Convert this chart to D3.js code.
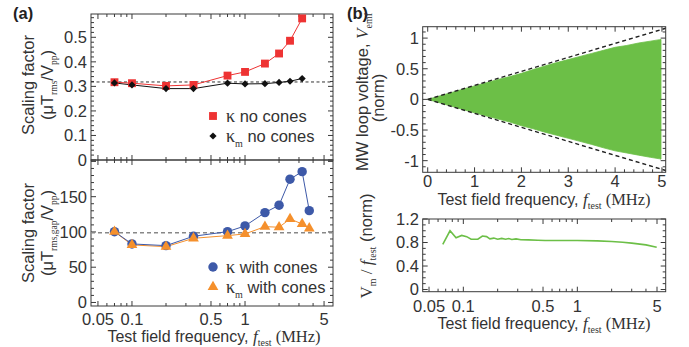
<!DOCTYPE html>
<html><head><meta charset="utf-8">
<script src="https://cdn.jsdelivr.net/npm/d3@7"></script>
<style>
body{margin:0;background:#fff}
text{font-family:"Liberation Sans",Arial,sans-serif;fill:#333}
.serif{font-family:"Liberation Serif","Times New Roman",serif}
</style></head><body>
<svg id="chart" width="689" height="347"></svg>
<script>
// ---- data ----
const freqNoCones = [0.07, 0.1, 0.2, 0.35, 0.7, 1, 1.5, 2, 2.5, 3.2];
const kappaNoCones = [0.317, 0.313, 0.302, 0.306, 0.344, 0.359, 0.393, 0.434, 0.486, 0.577];
const kappaMNoCones = [0.314, 0.306, 0.291, 0.291, 0.313, 0.310, 0.311, 0.316, 0.321, 0.332];
const refNoCones = 0.318;

const freqCones = [0.07, 0.1, 0.2, 0.35, 0.7, 1, 1.5, 2, 2.5, 3.2, 3.7];
const kappaCones = [100.4, 83, 80.6, 93.9, 100.4, 108.5, 127.4, 137.9, 174.8, 185.5, 130.2];
const kappaMCones = [100.4, 81.6, 79.1, 91, 94.8, 97.2, 107.5, 106.7, 118.4, 111.3, 105.2];
const refCones = 99;

// envelope of the MW loop signal
const envFreq = [0, 0.25, 0.5, 0.75, 1, 1.25, 1.5, 1.75, 2, 2.25, 2.5, 2.75, 3, 3.25, 3.5, 3.75, 4, 4.25, 4.5, 4.75, 4.95, 4.98];
const envUpper = [0, 0.056, 0.11, 0.166, 0.22, 0.272, 0.325, 0.372, 0.425, 0.487, 0.545, 0.6, 0.65, 0.7, 0.75, 0.8, 0.85, 0.88, 0.92, 0.95, 0.975, 0.98];
const envLower = [0, -0.055, -0.11, -0.165, -0.22, -0.27, -0.32, -0.37, -0.43, -0.48, -0.535, -0.585, -0.635, -0.685, -0.735, -0.79, -0.84, -0.875, -0.91, -0.945, -0.97, -0.975];
const boundFreq = [0, 5.08];
const boundAmp = [0, 1.16];

const ratioFreq = [0.066, 0.0764, 0.0863, 0.0968, 0.107, 0.117, 0.134, 0.147, 0.16, 0.171, 0.185, 0.2, 0.217, 0.235, 0.25, 0.266, 0.29, 0.32, 0.372, 0.45, 0.521, 0.7, 1.0, 1.5, 2.0, 2.5, 3.0, 4.0, 4.97];
const ratioVal = [0.77, 1.0, 0.88, 0.92, 0.9, 0.855, 0.855, 0.91, 0.9, 0.862, 0.875, 0.855, 0.87, 0.855, 0.868, 0.852, 0.862, 0.848, 0.845, 0.838, 0.835, 0.835, 0.835, 0.828, 0.818, 0.805, 0.79, 0.76, 0.72];

const logTickLabels = [0.05, 0.1, 0.5, 1, 5];
const logMinor = [0.06, 0.07, 0.08, 0.09, 0.2, 0.3, 0.4, 0.6, 0.7, 0.8, 0.9, 2, 3, 4];

const svg = d3.select("#chart");
const frameColor = "#3a3a3a";
const tickFont = "16.5px";

// frame with inward ticks on all four sides
function frame(g, x, y, xMaj, xMin, yMaj, yMin) {
    const [x0, x1] = x.range(), [y0, y1] = y.range(); // y0 bottom
    g.append("rect").attr("x", x0).attr("y", y1).attr("width", x1 - x0).attr("height", y0 - y1)
        .attr("fill", "none").attr("stroke", frameColor).attr("stroke-width", 1);
    const tk = g.append("g").attr("stroke", frameColor).attr("stroke-width", 1);
    const drawX = (vals, len) => vals.forEach(v => {
        const px = x(v);
        tk.append("line").attr("x1", px).attr("x2", px).attr("y1", y0).attr("y2", y0 - len);
        tk.append("line").attr("x1", px).attr("x2", px).attr("y1", y1).attr("y2", y1 + len);
    });
    const drawY = (vals, len) => vals.forEach(v => {
        const py = y(v);
        tk.append("line").attr("x1", x0).attr("x2", x0 + len).attr("y1", py).attr("y2", py);
        tk.append("line").attr("x1", x1).attr("x2", x1 - len).attr("y1", py).attr("y2", py);
    });
    drawX(xMaj, 5); drawX(xMin, 3);
    drawY(yMaj, 5); drawY(yMin, 3);
}

function yLabels(g, y, vals, xPos, fmt) {
    g.selectAll(null).data(vals).enter().append("text")
        .attr("x", xPos).attr("y", d => y(d)).attr("dy", "0.36em")
        .attr("text-anchor", "end").style("font-size", tickFont)
        .text(fmt || (d => d));
}
function xLabels(g, x, vals, yPos, fmt) {
    g.selectAll(null).data(vals).enter().append("text")
        .attr("x", d => x(d)).attr("y", yPos)
        .attr("text-anchor", "middle").style("font-size", tickFont)
        .text(fmt || (d => d));
}
function freqTitle(g, cx, y) {
    const t = g.append("text").attr("x", cx).attr("y", y).attr("text-anchor", "middle").style("font-size", "16px");
    t.append("tspan").text("Test field frequency, ");
    t.append("tspan").attr("class", "serif").style("font-style", "italic").style("font-size", "17px").text("f");
    t.append("tspan").attr("class", "serif").style("font-size", "10px").attr("dy", 4).text("test");
    t.append("tspan").attr("class", "serif").style("font-size", "16.5px").attr("dy", -4).text(" (MHz)");
}
const range = (a, b, s) => d3.range(Math.round(a / s), Math.round(b / s) + 1).map(i => +(i * s).toFixed(6));

// ================= panel (a) =================
const xA = d3.scaleLog().domain([0.0434, 6.0]).range([91, 333]);
const yA1 = d3.scaleLinear().domain([0, 0.595]).range([160, 14]);
const yA2 = d3.scaleLinear().domain([-5, 202]).range([306, 160]);

const gA = svg.append("g");
frame(gA, xA, yA1, logTickLabels, logMinor, range(0, 0.5, 0.1), range(0.02, 0.58, 0.02).filter(v => Math.round(v * 100) % 10 !== 0));
frame(gA, xA, yA2, logTickLabels, logMinor, range(0, 200, 50), range(0, 200, 10).filter(v => v % 50 !== 0));

// reference dashed lines
gA.append("line").attr("x1", xA.range()[0]).attr("x2", xA.range()[1])
    .attr("y1", yA1(refNoCones)).attr("y2", yA1(refNoCones))
    .attr("stroke", "#333").attr("stroke-width", 1).attr("stroke-dasharray", "3,2.5");
gA.append("line").attr("x1", xA.range()[0]).attr("x2", xA.range()[1])
    .attr("y1", yA2(refCones)).attr("y2", yA2(refCones))
    .attr("stroke", "#888").attr("stroke-width", 1.5).attr("stroke-dasharray", "4,3");

const lineA1 = d3.line().x(d => xA(d[0])).y(d => yA1(d[1]));
const lineA2 = d3.line().x(d => xA(d[0])).y(d => yA2(d[1]));
const red = "#ee3333", blue = "#3d59a8", orange = "#f5902c";

const kNC = freqNoCones.map((f, i) => [f, kappaNoCones[i]]);
const kmNC = freqNoCones.map((f, i) => [f, kappaMNoCones[i]]);
const kC = freqCones.map((f, i) => [f, kappaCones[i]]);
const kmC = freqCones.map((f, i) => [f, kappaMCones[i]]);

gA.append("path").attr("d", lineA1(kmNC)).attr("fill", "none").attr("stroke", "#111").attr("stroke-width", 1);
gA.append("path").attr("d", lineA1(kNC)).attr("fill", "none").attr("stroke", red).attr("stroke-width", 1);
gA.append("path").attr("d", lineA2(kmC)).attr("fill", "none").attr("stroke", orange).attr("stroke-width", 1);
gA.append("path").attr("d", lineA2(kC)).attr("fill", "none").attr("stroke", blue).attr("stroke-width", 1);

const sym = {
    square: {d: d3.symbol().type(d3.symbolSquare).size(62)(), rot: 0},
    diamond: {d: d3.symbol().type(d3.symbolSquare).size(26)(), rot: 45},
    circle: {d: d3.symbol().type(d3.symbolCircle).size(70)(), rot: 0},
    triangle: {d: d3.symbol().type(d3.symbolTriangle).size(50)(), rot: 0}
};
function markers(g, data, x, y, s, color) {
    g.selectAll(null).data(data).enter().append("path")
        .attr("d", s.d).attr("fill", color)
        .attr("transform", d => `translate(${x(d[0])},${y(d[1])}) rotate(${s.rot})`);
}
markers(gA, kNC, xA, yA1, sym.square, red);
markers(gA, kmNC, xA, yA1, sym.diamond, "#111");
markers(gA, kC, xA, yA2, sym.circle, blue);
markers(gA, kmC, xA, yA2, sym.triangle, orange);

// legends
function legendItem(g, x, y, s, color, sub, label) {
    g.append("path").attr("d", s.d).attr("fill", color).attr("transform", `translate(${x},${y}) rotate(${s.rot})`);
    const t = g.append("text").attr("x", x + 13).attr("y", y + 5.5).style("font-size", "16.5px");
    t.append("tspan").attr("class", "serif").style("font-size", "18px").text("κ");
    if (sub) {
        t.append("tspan").attr("class", "serif").style("font-size", "10px").attr("dy", 5).text(sub);
        t.append("tspan").attr("dy", -5).text(" " + label);
    } else {
        t.append("tspan").text(" " + label);
    }
}
legendItem(gA, 213, 116, sym.square, red, null, "no cones");
legendItem(gA, 213, 136, sym.diamond, "#111", "m", "no cones");
legendItem(gA, 213, 267, sym.circle, blue, null, "with cones");
legendItem(gA, 213, 287, sym.triangle, orange, "m", "with cones");

// tick labels
yLabels(gA, yA1, range(0, 0.5, 0.1), 87, d => d === 0 ? "0" : d.toFixed(1));
yLabels(gA, yA2, range(0, 150, 50), 87);
xLabels(gA, xA, logTickLabels, 325);
freqTitle(gA, 214, 342);

function scalingTitle(g, cy, sub) {
    g.append("text").attr("transform", `translate(34,${cy}) rotate(-90)`)
        .attr("text-anchor", "middle").style("font-size", "16.5px").text("Scaling factor");
    const t2 = g.append("text").attr("transform", `translate(53,${cy}) rotate(-90)`)
        .attr("text-anchor", "middle").style("font-size", "16.5px");
    t2.append("tspan").text("(μT");
    t2.append("tspan").attr("class", "serif").style("font-size", "9.5px").attr("dy", 4).text(sub);
    t2.append("tspan").attr("dy", -4).text("/V");
    t2.append("tspan").attr("class", "serif").style("font-size", "9.5px").attr("dy", 4).text("pp");
    t2.append("tspan").attr("dy", -4).text(")");
}
scalingTitle(gA, 85, "rms");
scalingTitle(gA, 233, "rms,gap");

svg.append("text").attr("x", 13).attr("y", 19).style("font-size", "16.5px").style("font-weight", "bold").style("fill", "#222").text("(a)");
svg.append("text").attr("x", 347).attr("y", 19).style("font-size", "16.5px").style("font-weight", "bold").style("fill", "#222").text("(b)");

// ================= panel (b) top =================
const xB1 = d3.scaleLinear().domain([-0.107, 5.08]).range([422.7, 665.7]);
const yB1 = d3.scaleLinear().domain([-1.19, 1.186]).range([172.3, 26.7]);
const gB = svg.append("g");

const area = d3.area().x(d => xB1(d[0])).y0(d => yB1(d[2])).y1(d => yB1(d[1]));
const env = envFreq.map((f, i) => [f, envUpper[i], envLower[i]]);
gB.append("path").attr("d", area(env)).attr("fill", "#6cbf47").attr("stroke", "#6cbf47").attr("stroke-width", 0.8);

const bound = boundFreq.map((f, i) => [f, boundAmp[i]]);
const dash = d3.line().x(d => xB1(d[0])).y(d => yB1(d[1]));
gB.append("path").attr("d", dash(bound)).attr("fill", "none").attr("stroke", "#222").attr("stroke-width", 1.4).attr("stroke-dasharray", "4,3");
gB.append("path").attr("d", dash(bound.map(d => [d[0], -d[1]]))).attr("fill", "none").attr("stroke", "#222").attr("stroke-width", 1.4).attr("stroke-dasharray", "4,3");

frame(gB, xB1, yB1, range(0, 5, 1), range(0, 5, 0.2).filter(v => Math.abs(v - Math.round(v)) > 1e-6), range(-1, 1, 0.5), range(-1.1, 1.1, 0.1).filter(v => Math.abs(v * 2 - Math.round(v * 2)) > 1e-6));
yLabels(gB, yB1, range(-1, 1, 0.5), 419, d => d === 0 ? "0" : (Number.isInteger(d) ? d : d.toFixed(1)));
xLabels(gB, xB1, range(0, 5, 1), 187);
freqTitle(gB, 544, 205);

const tB = gB.append("text").attr("transform", "translate(368,92) rotate(-90)").attr("text-anchor", "middle").style("font-size", "16.5px");
tB.append("tspan").text("MW loop voltage, ");
tB.append("tspan").attr("class", "serif").style("font-style", "italic").style("font-size", "17px").text("V");
tB.append("tspan").attr("class", "serif").style("font-size", "10px").attr("dy", 4).text("emf");
gB.append("text").attr("transform", "translate(384,98) rotate(-90)").attr("text-anchor", "middle").style("font-size", "16.5px").text("(norm)");

// ================= panel (b) bottom =================
const xB2 = d3.scaleLog().domain([0.044, 5.96]).range([422.7, 665.7]);
const yB2 = d3.scaleLinear().domain([-0.037, 1.2]).range([291.7, 219]);
const gC = svg.append("g");
const ratio = ratioFreq.map((f, i) => [f, ratioVal[i]]);
gC.append("path").attr("d", d3.line().x(d => xB2(d[0])).y(d => yB2(d[1]))(ratio))
    .attr("fill", "none").attr("stroke", "#6cbf47").attr("stroke-width", 1.6);
frame(gC, xB2, yB2, logTickLabels, logMinor, range(0, 1.2, 0.4), range(0.1, 1.1, 0.1).filter(v => Math.abs(v / 0.4 - Math.round(v / 0.4)) > 1e-6));
yLabels(gC, yB2, range(0, 1.2, 0.4), 419, d => d === 0 ? "0" : d.toFixed(1));
xLabels(gC, xB2, logTickLabels, 312);
freqTitle(gC, 544, 329);

const tC = gC.append("text").attr("transform", "translate(372,246) rotate(-90)").attr("text-anchor", "middle").style("font-size", "16.5px");
tC.append("tspan").attr("class", "serif").style("font-size", "17px").text("V");
tC.append("tspan").attr("class", "serif").style("font-size", "10px").attr("dy", 4).text("m");
tC.append("tspan").attr("class", "serif").style("font-size", "17px").attr("dy", -4).text(" / ");
tC.append("tspan").attr("class", "serif").style("font-style", "italic").style("font-size", "17px").text("f");
tC.append("tspan").attr("class", "serif").style("font-size", "10px").attr("dy", 4).text("test");
tC.append("tspan").attr("dy", -4).text(" (norm)");
</script>
</body></html>
